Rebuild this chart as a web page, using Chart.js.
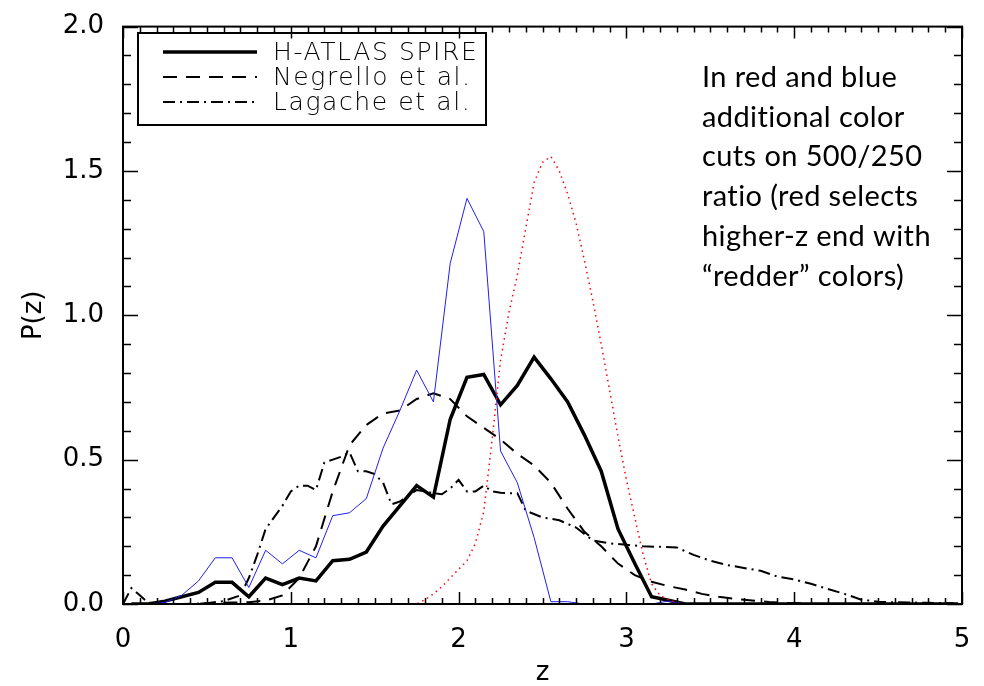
<!DOCTYPE html>
<html>
<head>
<meta charset="utf-8">
<title>P(z)</title>
<script src="https://cdn.jsdelivr.net/npm/chart.js@4.4.1/dist/chart.umd.min.js"></script>
<style>
  html, body { margin: 0; padding: 0; background: #fff; }
  #wrap { width: 984px; height: 686px; }
</style>
</head>
<body>
<div id="wrap"><canvas id="pzChart" width="984" height="686"></canvas></div>
<script>
// bin centres (z)
var zBins = [0.05, 0.15, 0.25, 0.35, 0.45, 0.55, 0.65, 0.75, 0.85, 0.95,
             1.05, 1.15, 1.25, 1.35, 1.45, 1.55, 1.65, 1.75, 1.85, 1.95,
             2.05, 2.15, 2.25, 2.35, 2.45, 2.55, 2.65, 2.75, 2.85, 2.95,
             3.05, 3.15, 3.25, 3.35, 3.45, 3.55, 3.65, 3.75, 3.85, 3.95,
             4.05, 4.15, 4.25, 4.35, 4.45, 4.55, 4.65, 4.75, 4.85, 4.95];

var hatlasP = [0, 0, 0.01, 0.025, 0.04, 0.075, 0.075, 0.025, 0.09, 0.067,
               0.09, 0.08, 0.15, 0.155, 0.18, 0.27, 0.34, 0.41, 0.37, 0.64,
               0.785, 0.795, 0.69, 0.757, 0.855, 0.78, 0.70, 0.585, 0.46, 0.26,
               0.14, 0.025, 0.013, 0, 0, 0, 0, 0, 0, 0,
               0, 0, 0, 0, 0, 0, 0, 0, 0, 0];

var blueP = [0, 0, 0.005, 0.03, 0.08, 0.16, 0.16, 0.057, 0.186, 0.139,
             0.186, 0.16, 0.306, 0.316, 0.365, 0.54, 0.67, 0.81, 0.70, 1.18,
             1.405, 1.29, 0.53, 0.42, 0.23, 0.008, 0.008, 0, 0, 0,
             0, 0, 0.01, 0, 0, 0, 0, 0, 0, 0,
             0, 0, 0, 0, 0, 0, 0, 0, 0, 0];

var negrelloP = [0, 0, 0, 0, 0.002, 0.003, 0.005, 0.006, 0.012, 0.03,
                 0.09, 0.2, 0.39, 0.55, 0.62, 0.66, 0.67, 0.71, 0.73, 0.71,
                 0.65, 0.61, 0.57, 0.52, 0.48, 0.42, 0.33, 0.25, 0.2, 0.14,
                 0.1, 0.077, 0.062, 0.05, 0.035, 0.025, 0.018, 0.012, 0.007, 0.004,
                 0.002, 0, 0, 0, 0, 0, 0, 0, 0, 0];

var lagacheZ = [0.0, 0.05, 0.1, 0.15, 0.2, 0.3, 0.4, 0.5, 0.6, 0.7, 0.75, 0.8, 0.85, 0.9, 0.95,
                1.0, 1.05, 1.1, 1.15, 1.2, 1.25, 1.3, 1.35, 1.4, 1.45, 1.5, 1.55, 1.6, 1.65,
                1.7, 1.75, 1.8, 1.85, 1.9, 1.95, 2.0, 2.05, 2.1, 2.15, 2.2, 2.25, 2.3, 2.35,
                2.4, 2.5, 2.6, 2.7, 2.8, 2.9, 3.0, 3.1, 3.2, 3.3, 3.4, 3.5, 3.6, 3.7, 3.8,
                3.9, 4.0, 4.1, 4.2, 4.3, 4.4, 4.5, 4.6, 4.7, 4.8, 4.9, 5.0];
var lagacheP = [0, 0.055, 0.03, 0.005, 0, 0, 0, 0.003, 0.01, 0.03, 0.09, 0.17, 0.26, 0.3, 0.34,
                0.39, 0.41, 0.41, 0.395, 0.49, 0.5, 0.51, 0.525, 0.46, 0.46, 0.45, 0.42, 0.345, 0.355,
                0.375, 0.395, 0.39, 0.384, 0.38, 0.40, 0.43, 0.39, 0.39, 0.41, 0.39, 0.385, 0.384, 0.384,
                0.323, 0.30, 0.29, 0.265, 0.22, 0.21, 0.205, 0.2, 0.198, 0.196, 0.17, 0.15, 0.135, 0.125, 0.115,
                0.095, 0.085, 0.07, 0.052, 0.035, 0.015, 0.008, 0.006, 0.005, 0.004, 0.003, 0.002];

var redZ = [0.05, 1.75, 1.80, 1.85, 1.90, 1.95, 2.00, 2.05, 2.10, 2.15, 2.20, 2.25, 2.30,
            2.35, 2.40, 2.45, 2.50, 2.55, 2.60, 2.65, 2.70, 2.75, 2.80, 2.85, 2.90, 2.95,
            3.00, 3.05, 3.10, 3.15, 3.20, 3.25, 3.30, 3.35, 4.95];
var redP = [0, 0, 0.015, 0.035, 0.06, 0.09, 0.12, 0.15, 0.21, 0.32, 0.57, 0.845, 1.01,
            1.14, 1.30, 1.46, 1.53, 1.55, 1.50, 1.42, 1.32, 1.19, 1.05, 0.90, 0.74, 0.58,
            0.43, 0.30, 0.17, 0.07, 0.03, 0.015, 0.005, 0, 0];

var legendNames = ['H-ATLAS SPIRE', 'Negrello et al.', 'Lagache et al.'];
var noteLines = ['In red and blue', 'additional color', 'cuts on 500/250',
                 'ratio (red selects', 'higher-z end with', '\u201credder\u201d colors)'];

function pairs(xs, ys) {
    return xs.map(function(x, i) { return { x: x, y: ys[i] }; });
}

var tickFont = "'DejaVu Sans', 'Liberation Sans', sans-serif";

var styles = {
    hatlas: { color: '#000', width: 3.5, dash: [] },
    negrello: { color: '#000', width: 2, dash: [14, 9] },
    lagache: { color: '#000', width: 2, dash: [12, 5, 2, 5] }
};

var idlPlugin = {
    id: 'idlFrame',
    afterDraw: function(chart) {
        var ctx = chart.ctx, a = chart.chartArea;
        var xs = chart.scales.x, ys = chart.scales.y;
        ctx.save();
        ctx.strokeStyle = '#000';
        ctx.lineWidth = 2;
        ctx.setLineDash([]);
        ctx.strokeRect(a.left, a.top, a.right - a.left, a.bottom - a.top);

        // inward ticks, IDL style
        ctx.lineWidth = 1.5;
        ctx.beginPath();
        for (var i = 0; i <= 50; i++) {
            var px = Math.round(xs.getPixelForValue(i / 10)) + 0.5;
            var len = (i % 10 === 0) ? 12 : 6;
            ctx.moveTo(px, a.bottom); ctx.lineTo(px, a.bottom - len);
            ctx.moveTo(px, a.top); ctx.lineTo(px, a.top + len);
        }
        for (var j = 0; j <= 20; j++) {
            var py = Math.round(ys.getPixelForValue(j / 10)) + 0.5;
            var l2 = (j % 5 === 0) ? 15 : 8;
            ctx.moveTo(a.left, py); ctx.lineTo(a.left + l2, py);
            ctx.moveTo(a.right, py); ctx.lineTo(a.right - l2, py);
        }
        ctx.stroke();

        // legend box
        ctx.lineWidth = 2;
        ctx.strokeRect(138, 33, 348, 92);
        var keys = ['hatlas', 'negrello', 'lagache'];
        var rowY = [52, 77, 102];
        ctx.font = "200 25px 'DejaVu Sans', sans-serif";
        ctx.letterSpacing = '1.6px';
        ctx.textBaseline = 'middle';
        ctx.fillStyle = '#000';
        for (var k = 0; k < keys.length; k++) {
            var s = styles[keys[k]];
            ctx.beginPath();
            ctx.lineWidth = s.width;
            ctx.setLineDash(s.dash);
            ctx.moveTo(163, rowY[k]);
            ctx.lineTo(257, rowY[k]);
            ctx.stroke();
            ctx.fillText(legendNames[k], 273, rowY[k] + 1);
        }
        ctx.setLineDash([]);

        // note text on the right
        ctx.font = "29px Lato, 'Open Sans', sans-serif";
        ctx.letterSpacing = '0.4px';
        ctx.textBaseline = 'alphabetic';
        for (var n = 0; n < noteLines.length; n++) {
            ctx.fillText(noteLines[n], 702, 87 + n * 39.7);
        }
        ctx.letterSpacing = '0px';
        ctx.restore();
    }
};

var ctx = document.getElementById('pzChart').getContext('2d');
new Chart(ctx, {
    type: 'line',
    data: {
        datasets: [{
            label: 'red cut',
            data: pairs(redZ, redP),
            borderColor: '#ff0000',
            borderWidth: 1.5,
            borderDash: [1.5, 4],
            pointRadius: 0,
            tension: 0
        }, {
            label: 'blue cut',
            data: pairs(zBins, blueP),
            borderColor: '#2020f0',
            borderWidth: 1,
            pointRadius: 0,
            tension: 0
        }, {
            label: legendNames[2],
            data: pairs(lagacheZ, lagacheP),
            borderColor: '#000',
            borderWidth: styles.lagache.width,
            borderDash: styles.lagache.dash,
            pointRadius: 0,
            tension: 0
        }, {
            label: legendNames[1],
            data: pairs(zBins, negrelloP),
            borderColor: '#000',
            borderWidth: styles.negrello.width,
            borderDash: styles.negrello.dash,
            pointRadius: 0,
            tension: 0
        }, {
            label: legendNames[0],
            data: pairs(zBins, hatlasP),
            borderColor: '#000',
            borderWidth: styles.hatlas.width,
            pointRadius: 0,
            tension: 0
        }]
    },
    options: {
        responsive: false,
        animation: false,
        layout: { padding: { top: 10, right: 22, left: 0, bottom: 0 } },
        plugins: {
            legend: { display: false },
            tooltip: { enabled: false }
        },
        scales: {
            x: {
                type: 'linear',
                min: 0,
                max: 5,
                grid: { display: false },
                border: { display: false },
                ticks: {
                    stepSize: 1,
                    color: '#000',
                    padding: 13,
                    maxRotation: 0,
                    font: { family: tickFont, size: 26 }
                },
                title: {
                    display: true,
                    text: 'z',
                    color: '#000',
                    padding: { top: 0, bottom: 0 },
                    font: { family: tickFont, size: 26, lineHeight: 1.0 }
                },
                afterFit: function(scale) { scale.height = 82; }
            },
            y: {
                min: 0,
                max: 2,
                grid: { display: false },
                border: { display: false },
                ticks: {
                    stepSize: 0.5,
                    color: '#000',
                    padding: 11,
                    font: { family: tickFont, size: 26 },
                    callback: function(v) { return v.toFixed(1); }
                },
                title: {
                    display: true,
                    text: 'P(z)',
                    color: '#000',
                    padding: { top: 19, bottom: 0 },
                    font: { family: tickFont, size: 26 }
                },
                afterFit: function(scale) { scale.width = 123; }
            }
        }
    },
    plugins: [idlPlugin]
});
</script>
</body>
</html>
